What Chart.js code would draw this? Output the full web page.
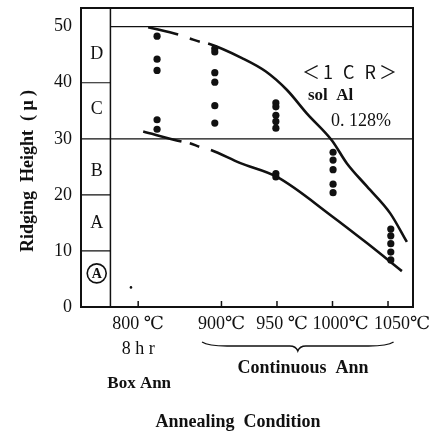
<!DOCTYPE html>
<html>
<head>
<meta charset="utf-8">
<script src="https://cdn.jsdelivr.net/npm/chart.js@4.4.1/dist/chart.umd.min.js"></script>
<style>
  html, body { margin: 0; padding: 0; background: #fff; }
  #wrap { width: 433px; height: 432px; }
</style>
</head>
<body>
<div id="wrap"><canvas id="chart" width="433" height="432"></canvas></div>
<script>
/* ============================================================
   Données
   ============================================================ */
// conditions de recuit -> position sur l'axe x
const condLabels = ['800', '900', '950', '1000', '1050'];
const condPos    = [0, 1.5, 2.5, 3.5, 4.5];
const yTicks     = [0, 10, 20, 30, 40, 50];

// classes de ridging (colonne de gauche)
const zoneLabels = ['Ⓐ', 'A', 'B', 'C', 'D'];
const zoneMid    = [6, 15.2, 24.3, 35.5, 45.3];
const zoneLines  = [10, 20, 40];

// points mesurés, par condition
const dotX      = [0.34, 1.38, 2.48, 3.51, 4.55];
const ridge800  = [48.3, 44.2, 42.2, 33.4, 31.7];
const ridge900  = [46.1, 45.5, 41.8, 40.1, 35.9, 32.8];
const ridge950  = [36.4, 35.7, 34.2, 33.1, 31.9, 23.8, 23.2];
const ridge1000 = [27.6, 26.2, 24.5, 21.9, 20.4];
const ridge1050 = [13.9, 12.7, 11.3, 9.8, 8.4];
const stray     = { x: -0.13, y: 3.5 };

// courbes enveloppes (solide / trou / tiret / trou / solide)
const upperX = [0.18, 0.72, 0.93, 1.11, 1.26, 1.87, 2.30, 2.68, 3.04, 3.49, 3.76, 4.12, 4.54, 4.84];
const upperY = [49.9, 48.6, 47.9, 47.3, 47.0, 44.4, 42.0, 38.7, 34.5, 29.7, 25.6, 21.5, 16.7, 11.6];
const lowerX = [0.09, 0.78, 0.93, 1.10, 1.31, 1.83, 2.50, 3.49, 4.12, 4.75];
const lowerY = [31.3, 29.5, 29.2, 28.6, 28.0, 25.7, 23.2, 16.2, 11.4, 6.4];

/* ============================================================
   Construction des datasets
   ============================================================ */
const INK = '#111';
const SERIF = '"Liberation Serif", "DejaVu Serif", serif';

const groups = [ridge800, ridge900, ridge950, ridge1000, ridge1050];
const dots = [];
groups.forEach((g, i) => g.forEach(v => dots.push({ x: dotX[i], y: v })));

const toPts = (xs, ys) => xs.map((x, i) => ({ x, y: ys[i] }));
const GAPS = [1, 3]; // segments invisibles autour du tiret
const curveStyle = {
  borderColor: INK,
  borderWidth: 2.6,
  pointRadius: 0,
  fill: false,
  cubicInterpolationMode: 'monotone',
  segment: {
    borderColor: ctx => GAPS.includes(ctx.p0DataIndex) ? 'rgba(0,0,0,0)' : INK,
  },
};

/* ============================================================
   Plugin : cadre, colonne des classes, textes
   ============================================================ */
const paperDecor = {
  id: 'paperDecor',
  afterDraw(chart) {
    const { ctx, chartArea: a, scales: { x, y } } = chart;
    const colX = x.getPixelForValue(-0.5);
    ctx.save();
    ctx.strokeStyle = INK;
    ctx.fillStyle = INK;

    // cadre
    ctx.lineWidth = 2;
    ctx.strokeRect(a.left, a.top, a.right - a.left, a.bottom - a.top);
    ctx.lineWidth = 1.5;
    ctx.beginPath();
    ctx.moveTo(colX, a.top); ctx.lineTo(colX, a.bottom);
    ctx.stroke();

    // lignes horizontales
    ctx.lineWidth = 1.2;
    ctx.beginPath();
    zoneLines.forEach(v => {
      const py = y.getPixelForValue(v);
      ctx.moveTo(a.left, py); ctx.lineTo(colX, py);
    });
    let py = y.getPixelForValue(30);
    ctx.moveTo(a.left, py); ctx.lineTo(a.right, py);
    py = y.getPixelForValue(50);
    ctx.moveTo(colX, py); ctx.lineTo(a.right, py);
    ctx.stroke();

    // lettres des classes
    const cx = (a.left + colX) / 2 + 1;
    ctx.textAlign = 'center';
    ctx.textBaseline = 'middle';
    zoneLabels.forEach((t, i) => {
      const ly = y.getPixelForValue(zoneMid[i]);
      if (t === 'Ⓐ') {
        ctx.lineWidth = 1.6;
        ctx.beginPath();
        ctx.arc(cx, ly, 9.5, 0, Math.PI * 2);
        ctx.stroke();
        ctx.font = 'bold 14px ' + SERIF;
        ctx.fillText('A', cx, ly + 1);
      } else {
        ctx.font = '18px ' + SERIF;
        ctx.fillText(t, cx, ly + 1);
      }
    });

    // graduations x et étiquettes
    const shift = [0, 0, 5, 8, 14];
    ctx.lineWidth = 1.5;
    condPos.forEach((p, i) => {
      const px = x.getPixelForValue(p);
      ctx.beginPath();
      ctx.moveTo(px, a.bottom); ctx.lineTo(px, a.bottom - 6);
      ctx.stroke();
      ctx.font = '18px ' + SERIF;
      const sep = (i === 0 || i === 2) ? ' ' : '';
      ctx.fillText(condLabels[i] + sep + '℃', px + shift[i], a.bottom + 17);
    });
    const p800 = x.getPixelForValue(condPos[0]);
    ctx.font = '18px ' + SERIF;
    ctx.fillText('8 h r', p800, a.bottom + 42);
    ctx.font = 'bold 17px ' + SERIF;
    ctx.fillText('Box Ann', p800 + 1, a.bottom + 77);
    ctx.font = 'bold 18px ' + SERIF;
    ctx.fillText('Continuous  Ann', 303, a.bottom + 61);
    ctx.fillText('Annealing  Condition', 238, a.bottom + 115);

    // accolade sous les recuits continus
    const bL = x.getPixelForValue(1.15), bR = x.getPixelForValue(4.6);
    const bM = (bL + bR) / 2, bY = a.bottom + 39;
    ctx.lineWidth = 1.4;
    ctx.beginPath();
    ctx.moveTo(bL, bY - 4);
    ctx.quadraticCurveTo(bL + 6, bY, bL + 25, bY);
    ctx.lineTo(bM - 8, bY);
    ctx.quadraticCurveTo(bM - 2, bY, bM, bY + 5);
    ctx.quadraticCurveTo(bM + 2, bY, bM + 8, bY);
    ctx.lineTo(bR - 25, bY);
    ctx.quadraticCurveTo(bR - 6, bY, bR, bY - 4);
    ctx.stroke();

    // annotation de l'échantillon
    ctx.textAlign = 'left';
    ctx.font = '18px "Noto Sans CJK JP", ' + SERIF;
    ctx.letterSpacing = '3px';
    ctx.fillText('＜1 C R＞', 302, 72);
    ctx.letterSpacing = '0px';
    ctx.font = 'bold 17px ' + SERIF;
    ctx.fillText('sol  Al', 308, 96);
    ctx.font = '18px ' + SERIF;
    ctx.fillText('0. 128%', 331, 121);

    // titre de l'axe y
    ctx.save();
    ctx.translate(28, 171);
    ctx.rotate(-Math.PI / 2);
    ctx.textAlign = 'center';
    ctx.font = 'bold 18px ' + SERIF;
    ctx.fillText('Ridging  Height  ( μ )', 0, 0);
    ctx.restore();

    ctx.restore();
  },
};

/* ============================================================
   Graphique
   ============================================================ */
new Chart(document.getElementById('chart'), {
  type: 'scatter',
  data: {
    datasets: [
      { data: dots, pointRadius: 3.6, pointBackgroundColor: INK, pointBorderWidth: 0, showLine: false },
      { data: [stray], pointRadius: 1.3, pointBackgroundColor: INK, pointBorderWidth: 0, showLine: false },
      { data: toPts(upperX, upperY), showLine: true, ...curveStyle },
      { data: toPts(lowerX, lowerY), showLine: true, ...curveStyle },
    ],
  },
  options: {
    responsive: false,
    animation: false,
    devicePixelRatio: 1,
    layout: { padding: { top: 8, right: 20, left: 0, bottom: 0 } },
    plugins: { legend: { display: false }, tooltip: { enabled: false } },
    scales: {
      x: {
        type: 'linear',
        min: -1.03,
        max: 4.95,
        grid: { display: false },
        border: { display: false },
        ticks: { display: false },
        afterFit: s => { s.height = 125; s.paddingLeft = 0; s.paddingRight = 0; },
      },
      y: {
        min: 0,
        max: 53.33,
        grid: { display: false, drawTicks: false },
        border: { display: false },
        afterBuildTicks: s => { s.ticks = yTicks.map(v => ({ value: v })); },
        ticks: {
          color: INK,
          padding: 9,
          font: { family: SERIF, size: 18 },
          callback: v => String(v),
        },
        afterFit: s => { s.width = 81; s.paddingTop = 0; s.paddingBottom = 0; },
      },
    },
  },
  plugins: [paperDecor],
});
</script>
</body>
</html>
